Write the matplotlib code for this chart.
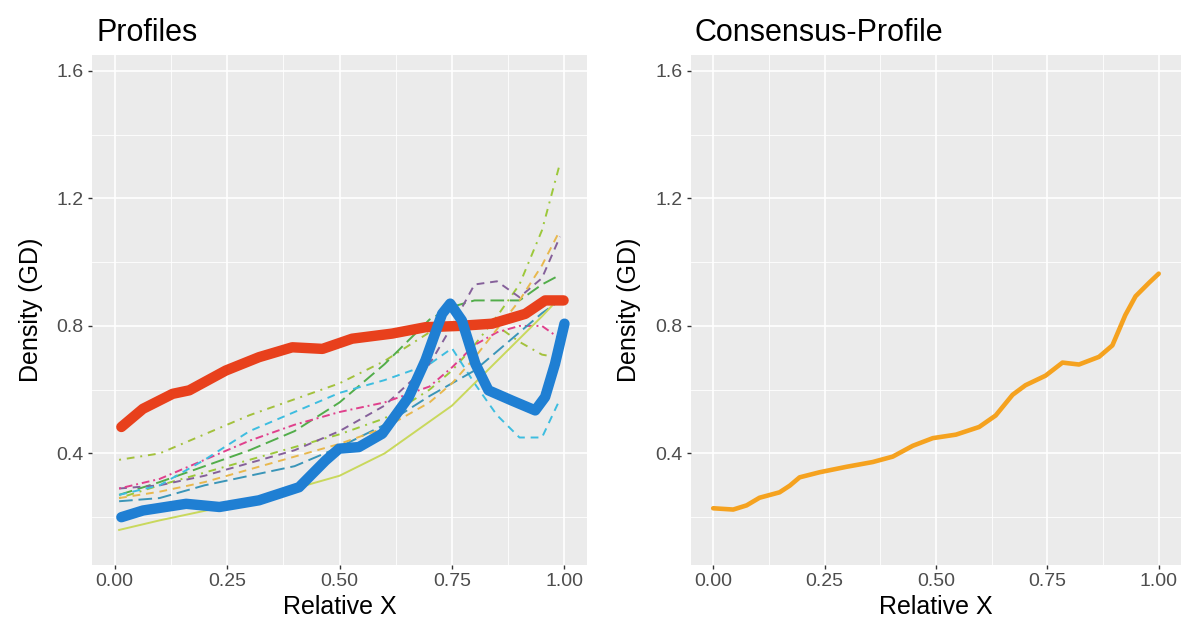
import numpy as np
import matplotlib
matplotlib.use("Agg")
import matplotlib.pyplot as plt

plt.rcParams['font.family'] = ['Liberation Sans', 'DejaVu Sans']

# --- data --------------------------------------------------------------
red_x = [0.015, 0.063, 0.129, 0.166, 0.247, 0.321, 0.395, 0.462, 0.528,
         0.617, 0.691, 0.765, 0.839, 0.913, 0.957, 0.998]
red_y = [0.483, 0.540, 0.587, 0.598, 0.660, 0.702, 0.733, 0.728, 0.760,
         0.776, 0.796, 0.800, 0.807, 0.838, 0.880, 0.880]

blue_x = [0.015, 0.063, 0.159, 0.233, 0.321, 0.410, 0.469, 0.499, 0.543,
          0.595, 0.654, 0.691, 0.728, 0.746, 0.772, 0.802, 0.831, 0.883,
          0.935, 0.957, 0.979, 1.000]
blue_y = [0.200, 0.221, 0.242, 0.232, 0.253, 0.294, 0.378, 0.415, 0.420,
          0.462, 0.577, 0.692, 0.838, 0.870, 0.817, 0.681, 0.598, 0.566,
          0.535, 0.577, 0.681, 0.807]

thin_x = [0.01, 0.1, 0.2, 0.3, 0.4, 0.5, 0.6, 0.7, 0.75, 0.8, 0.85, 0.9, 0.95, 0.99]
thin_lines = {
    'yellowgreen': [0.38, 0.40, 0.46, 0.52, 0.57, 0.62, 0.69, 0.78, 0.80, 0.81, 0.80, 0.75, 0.71, 0.70],
    'green':       [0.27, 0.31, 0.36, 0.41, 0.47, 0.56, 0.68, 0.82, 0.86, 0.88, 0.88, 0.88, 0.93, 0.96],
    'lime':        [0.26, 0.30, 0.34, 0.38, 0.42, 0.46, 0.51, 0.60, 0.66, 0.74, 0.83, 0.93, 1.10, 1.31],
    'purple':      [0.29, 0.30, 0.33, 0.37, 0.41, 0.47, 0.55, 0.68, 0.80, 0.93, 0.94, 0.89, 0.95, 1.08],
    'magenta':     [0.29, 0.32, 0.38, 0.44, 0.49, 0.53, 0.56, 0.61, 0.67, 0.74, 0.78, 0.80, 0.80, 0.76],
    'cyan':        [0.27, 0.30, 0.38, 0.47, 0.53, 0.59, 0.63, 0.68, 0.73, 0.62, 0.52, 0.45, 0.45, 0.57],
    'teal':        [0.25, 0.26, 0.30, 0.33, 0.36, 0.42, 0.49, 0.58, 0.62, 0.66, 0.72, 0.78, 0.84, 0.88],
    'orange':      [0.26, 0.28, 0.31, 0.35, 0.39, 0.43, 0.48, 0.56, 0.62, 0.70, 0.79, 0.88, 0.99, 1.10],
    'pale':        [0.16, 0.19, 0.22, 0.25, 0.29, 0.33, 0.40, 0.50, 0.55, 0.62, 0.69, 0.76, 0.83, 0.89],
}
thin_colors = {
    'yellowgreen': '#a3c13c', 'green': '#52ad4a', 'lime': '#9cc83a',
    'purple': '#85609a', 'magenta': '#e0408c', 'cyan': '#3dbde0',
    'teal': '#3a95b8', 'orange': '#e8b84e', 'pale': '#c9d85c',
}
thin_dashes = {
    'yellowgreen': (1, 3, 4, 3), 'green': (7, 3), 'lime': (1, 3, 4, 3),
    'purple': (4, 3), 'magenta': (1, 2, 4, 2), 'cyan': (4, 3),
    'teal': (7, 3), 'orange': (4, 3), 'pale': None,
}

cons_x = [0.000, 0.045, 0.075, 0.104, 0.149, 0.172, 0.194, 0.239, 0.299,
          0.358, 0.403, 0.448, 0.493, 0.545, 0.597, 0.634, 0.672, 0.701,
          0.746, 0.784, 0.821, 0.866, 0.896, 0.925, 0.948, 0.978, 1.000]
cons_y = [0.228, 0.224, 0.237, 0.261, 0.278, 0.299, 0.325, 0.341, 0.358,
          0.373, 0.390, 0.424, 0.448, 0.459, 0.483, 0.519, 0.584, 0.614,
          0.644, 0.685, 0.679, 0.703, 0.739, 0.834, 0.893, 0.935, 0.964]

x_ticks = [0.0, 0.25, 0.5, 0.75, 1.0]
x_labels = ['0.00', '0.25', '0.50', '0.75', '1.00']
y_ticks = [0.4, 0.8, 1.2, 1.6]
y_labels = ['0.4', '0.8', '1.2', '1.6']


def gg_style(ax, title):
    ax.set_facecolor('#ebebeb')
    for s in ax.spines.values():
        s.set_visible(False)
    ax.set_xlim(-0.05, 1.05)
    ax.set_ylim(0.05, 1.65)
    ax.set_xticks(x_ticks)
    ax.set_xticklabels(x_labels)
    ax.set_yticks(y_ticks)
    ax.set_yticklabels(y_labels)
    ax.set_yticks([0.2, 0.6, 1.0, 1.4], minor=True)
    ax.set_xticks([0.125, 0.375, 0.625, 0.875], minor=True)
    ax.grid(which='major', color='white', linewidth=1.2)
    ax.grid(which='minor', color='white', linewidth=0.6)
    ax.set_axisbelow(True)
    ax.tick_params(which='major', length=3, width=1, color='#333333',
                   labelsize=14, labelcolor='#4d4d4d', pad=3)
    ax.tick_params(which='minor', length=0)
    ax.set_xlabel('Relative X', fontsize=18, labelpad=3)
    ax.set_ylabel('Density (GD)', fontsize=18, labelpad=10)
    ax.set_title(title, loc='left', fontsize=22, pad=10, x=0.008)


fig = plt.figure(figsize=(11.81, 6.32), dpi=100)
ax1 = fig.add_axes([0.078, 0.106, 0.419, 0.807])
ax2 = fig.add_axes([0.585, 0.106, 0.415, 0.807])

gg_style(ax1, 'Profiles')
gg_style(ax2, 'Consensus-Profile')

for name, ys in thin_lines.items():
    line, = ax1.plot(thin_x, ys, color=thin_colors[name], linewidth=1.4)
    if thin_dashes[name] is not None:
        line.set_dashes(thin_dashes[name])

ax1.plot(red_x, red_y, color='#e8401c', linewidth=7.5, solid_capstyle='round')
ax1.plot(blue_x, blue_y, color='#1f7fd3', linewidth=7.5, solid_capstyle='round')

ax2.plot(cons_x, cons_y, color='#f5a21f', linewidth=3.3, solid_capstyle='round')

fig.savefig('out.png', dpi=100)
